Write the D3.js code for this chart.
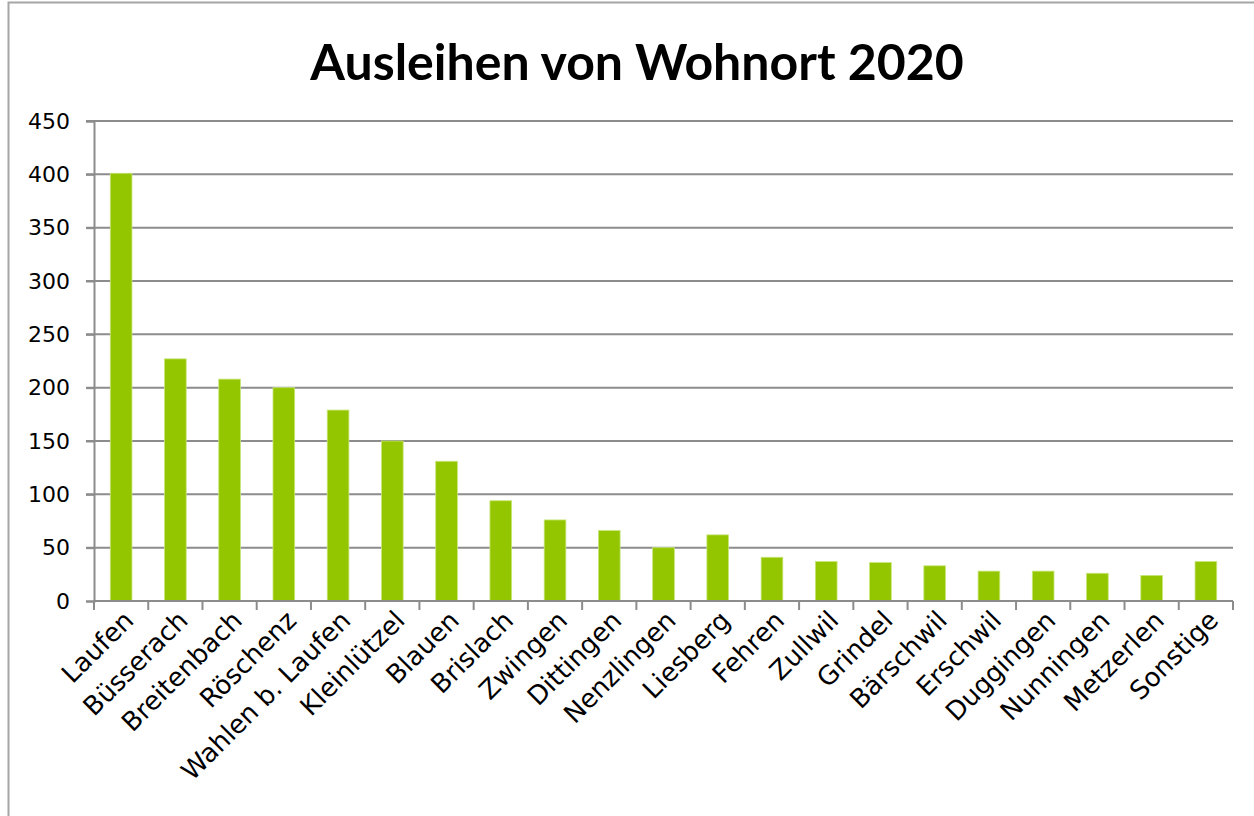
<!DOCTYPE html>
<html>
<head>
<meta charset="utf-8">
<script src="https://cdn.jsdelivr.net/npm/d3@7"></script>
<style>
  body { margin: 0; background: #fff; }
  text { font-family: "DejaVu Sans", sans-serif; fill: #000; }
</style>
</head>
<body>
<script>
var width = 1254;
var height = 816;

var orte = ["Laufen","Büsserach","Breitenbach","Röschenz","Wahlen b. Laufen","Kleinlützel",
  "Blauen","Brislach","Zwingen","Dittingen","Nenzlingen","Liesberg","Fehren","Zullwil",
  "Grindel","Bärschwil","Erschwil","Duggingen","Nunningen","Metzerlen","Sonstige"];
var ausleihen = [401,227,208,200,179,150,131,94,76,66,50,62,41,37,36,33,28,28,26,24,37];
var yTicks = [0,50,100,150,200,250,300,350,400,450];

var svg = d3.select("body").append("svg").attr("width",width).attr("height",height);

// chart border
svg.append("rect")
  .attr("x",8.5).attr("y",2.5).attr("width",width+20).attr("height",height+20)
  .attr("fill","none").attr("stroke","#a6a6a6").attr("stroke-width",2);

var plotLeft = 94, plotRight = 1233, plotTop = 121, plotBottom = 601;

var x = d3.scaleBand().domain(orte).range([plotLeft,plotRight]).paddingInner(0.6).paddingOuter(0.3);
var y = d3.scaleLinear().domain([0,450]).range([plotBottom,plotTop]);

svg.append("text")
  .attr("x",637).attr("y",80)
  .attr("text-anchor","middle")
  .style("font-family","Lato, sans-serif")
  .style("font-size","50px").style("font-weight","bold")
  .text("Ausleihen von Wohnort 2020");

// gridlines
svg.append("g").selectAll("line")
  .data(yTicks.slice(1))
  .enter().append("line")
    .attr("x1",plotLeft-8).attr("x2",plotRight)
    .attr("y1",function(d){ return y(d); }).attr("y2",function(d){ return y(d); })
    .attr("stroke","#8c8c8c").attr("stroke-width",2);

// y axis
var yAxis = svg.append("g").attr("transform","translate("+plotLeft+",0)")
  .call(d3.axisLeft(y).tickValues(yTicks).tickSize(8).tickPadding(16));
yAxis.select(".domain").attr("stroke","#8c8c8c").attr("stroke-width",2);
yAxis.selectAll(".tick line").attr("stroke","#8c8c8c").attr("stroke-width",2);
yAxis.selectAll(".tick text").style("font-size","22px").style("font-family","DejaVu Sans, sans-serif").attr("fill","#000");

// bars
svg.append("g").selectAll("rect")
  .data(ausleihen)
  .enter().append("rect")
    .attr("x",function(d,i){ return x(orte[i]); })
    .attr("y",function(d){ return y(d); })
    .attr("width",x.bandwidth())
    .attr("height",function(d){ return plotBottom - y(d); })
    .attr("fill","#94c600")
    .attr("stroke","#c8e67a").attr("stroke-width",0.8);

// x axis
var step = (plotRight-plotLeft)/orte.length;
var xg = svg.append("g");
xg.append("line").attr("x1",plotLeft).attr("x2",plotRight).attr("y1",plotBottom).attr("y2",plotBottom)
  .attr("stroke","#8c8c8c").attr("stroke-width",2);
xg.selectAll("line.tk")
  .data(d3.range(orte.length+1))
  .enter().append("line").attr("class","tk")
    .attr("x1",function(d){ return plotLeft+d*step; }).attr("x2",function(d){ return plotLeft+d*step; })
    .attr("y1",plotBottom).attr("y2",plotBottom+9)
    .attr("stroke","#8c8c8c").attr("stroke-width",2);

xg.selectAll("text")
  .data(orte)
  .enter().append("text")
    .attr("text-anchor","end")
    .attr("transform",function(d){
      var cx = x(d) + x.bandwidth()/2 + 14;
      return "translate("+cx+",622) rotate(-45)";
    })
    .style("font-size","26px")
    .text(function(d){ return d; });
</script>
</body>
</html>
